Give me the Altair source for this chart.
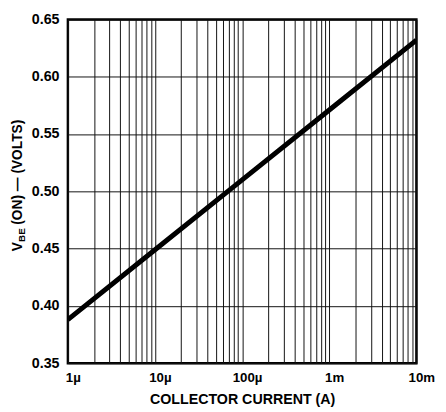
import altair as alt
import pandas as pd

# Data
current_a = [1e-6, 1e-5, 1e-4, 1e-3, 1e-2]
vbe_on = [0.388, 0.449, 0.510, 0.571, 0.632]

decade_exps = [-6, -5, -4, -3, -2]
decade_labels = ["1\u00b5", "10\u00b5", "100\u00b5", "1m", "10m"]
y_ticks = [0.35, 0.40, 0.45, 0.50, 0.55, 0.60, 0.65]
x_title = "COLLECTOR CURRENT (A)"
y_title_parts = ["V", "BE", "(ON) \u2014 (VOLTS)"]

FONT = "Liberation Sans"

# gridline positions on log axis: 1..9 per decade
x_grid = [m * 10.0 ** e for e in decade_exps[:-1] for m in range(1, 10)] + [10.0 ** decade_exps[-1]]

label_expr = "''"
for e, lab in reversed(list(zip(decade_exps, decade_labels))):
    label_expr = f"abs(log(datum.value)/LN10 - ({e})) < 0.001 ? '{lab}' : ({label_expr})"

df = pd.DataFrame({"I": current_a, "V": vbe_on})

x_enc = alt.X(
    "I:Q",
    scale=alt.Scale(type="log", domain=[1e-6, 1e-2], nice=False),
    axis=alt.Axis(
        values=x_grid,
        labelExpr=label_expr,
        title=x_title,
        grid=True,
        gridColor="#111",
        gridWidth=1,
        gridOpacity=1,
        ticks=False,
        domain=False,
        labelFont=FONT,
        labelFontWeight="bold",
        labelFontSize=13.5,
        labelColor="black",
        labelPadding=8,
        labelOffset=5,
        labelFlush=False,
        labelOverlap=False,
        labelBound=False,
        titleFont=FONT,
        titleFontWeight="bold",
        titleFontSize=14.5,
        titleColor="black",
        titlePadding=9,
    ),
)
y_enc = alt.Y(
    "V:Q",
    scale=alt.Scale(domain=[0.35, 0.65], nice=False, zero=False),
    axis=alt.Axis(
        values=y_ticks,
        format=".2f",
        title=None,
        grid=True,
        gridColor="#111",
        gridWidth=1,
        gridOpacity=1,
        ticks=False,
        domain=False,
        labelFont=FONT,
        labelFontWeight="bold",
        labelFontSize=14.5,
        labelColor="black",
        labelPadding=9,
        labelFlush=False,
        labelOverlap=False,
    ),
)

line = alt.Chart(df).mark_line(color="black", strokeWidth=5, clip=True).encode(x=x_enc, y=y_enc)

# rotated y title built from pieces (subscript BE)
tdf = pd.DataFrame({"t": y_title_parts})
common = dict(angle=270, align="left", baseline="alphabetic", font=FONT, fontWeight="bold", color="black")
t_v = alt.Chart(tdf).transform_filter(alt.datum.t == y_title_parts[0]).mark_text(fontSize=14, **common).encode(
    text="t:N", x=alt.value(-47), y=alt.value(236))
t_be = alt.Chart(tdf).transform_filter(alt.datum.t == y_title_parts[1]).mark_text(fontSize=10, **common).encode(
    text="t:N", x=alt.value(-44), y=alt.value(226.5))
t_rest = alt.Chart(tdf).transform_filter(alt.datum.t == y_title_parts[2]).mark_text(fontSize=14, **common).encode(
    text="t:N", x=alt.value(-47), y=alt.value(209))

chart = (
    alt.layer(line, t_v, t_be, t_rest)
    .properties(
        width=355,
        height=350,
        autosize=alt.AutoSizeParams(type="none"),
        padding={"left": 61, "top": 8, "right": 22, "bottom": 46},
        background="white",
    )
    .configure_view(stroke="black", strokeWidth=2.5)
)

chart.save("out.html", embed_options={"renderer": "svg", "actions": False})
